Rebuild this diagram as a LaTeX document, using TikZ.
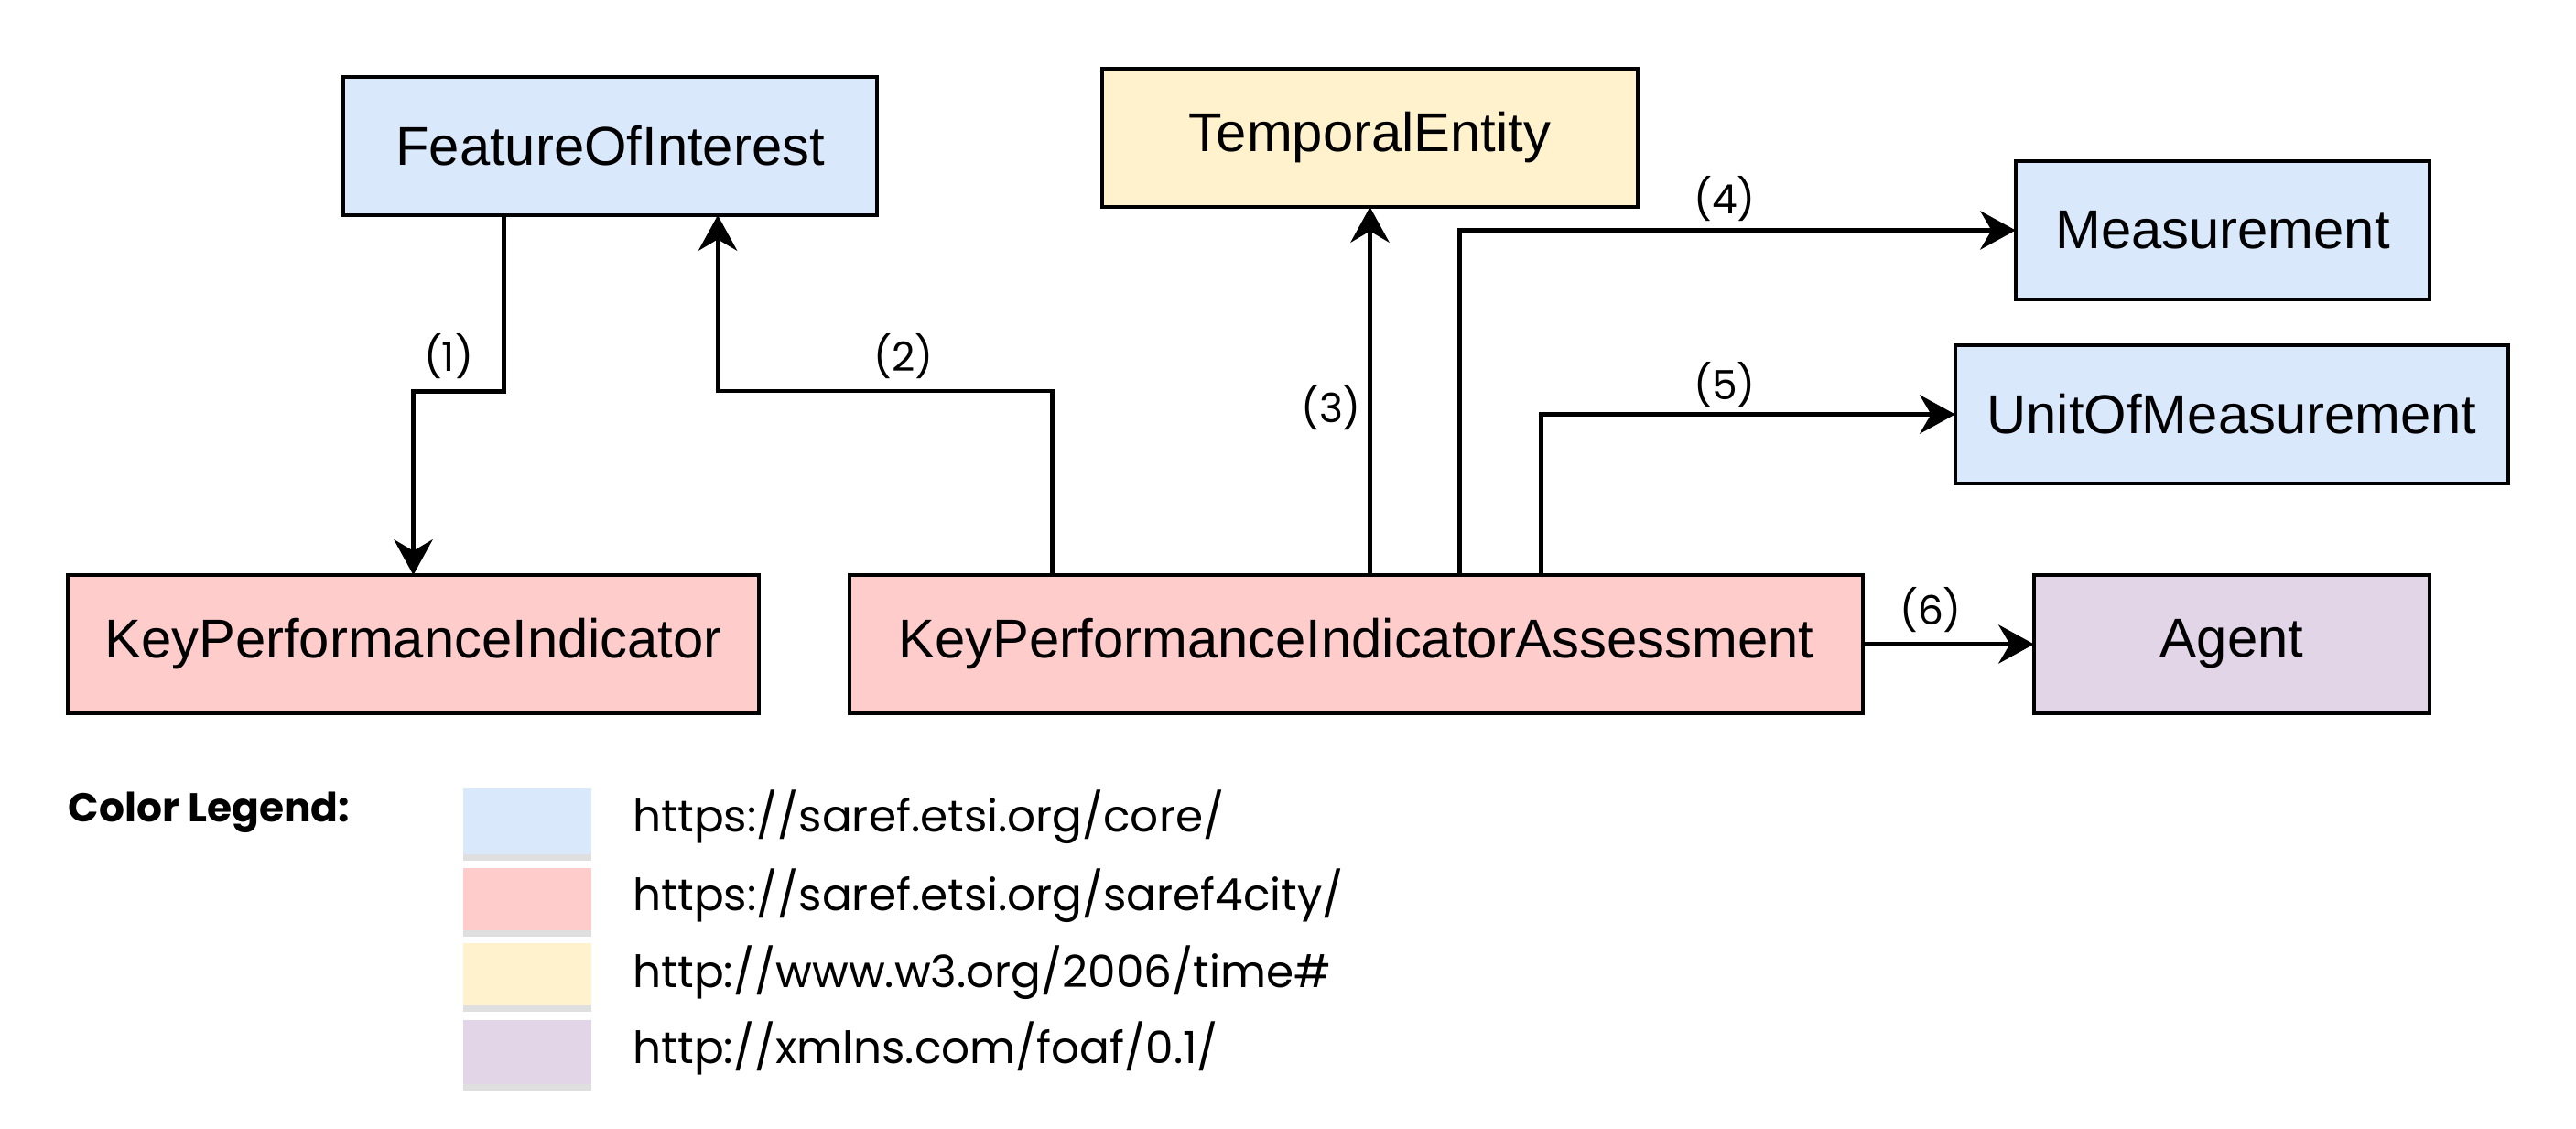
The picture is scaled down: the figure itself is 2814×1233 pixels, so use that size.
\documentclass[tikz,border=0pt]{standalone}
\usepackage{fontspec}
\setmainfont{Liberation Sans}
\newfontfamily\legendfont{Poppins}
\usepackage{tikz}
\usetikzlibrary{arrows.meta,shadows}

\definecolor{corebl}{HTML}{DAE8FC}
\definecolor{cityred}{HTML}{FFCCCC}
\definecolor{timeyl}{HTML}{FFF2CC}
\definecolor{foafpu}{HTML}{E1D5E7}

\begin{document}
\begin{tikzpicture}[x=0.01cm, y=-0.01cm,
  class/.style = {draw, line width=1.1pt, minimum height=1.51cm,
    inner sep=0pt, outer sep=0pt, font=\fontsize{17}{20}\selectfont},
  link/.style = {line width=1.4pt, -{Stealth[length=11pt,width=12pt,inset=3.5pt]}},
  lbl/.style = {font=\legendfont\fontsize{12.5}{14}\selectfont, inner sep=0pt},
  swatch/.style = {minimum width=1.4cm, inner sep=0pt,
    drop shadow={shadow xshift=0pt, shadow yshift=-2pt, opacity=0.25}},
  legtext/.style = {anchor=west, inner sep=0pt, font=\legendfont\fontsize{13.8}{16}\selectfont}]
  \useasboundingbox[fill=white] (0,0) rectangle (2814,1233);

  % classes
  \node[class, fill=corebl, minimum width=5.83cm] (foi) at (666.5,159.5) {FeatureOfInterest};
  \node[class, fill=timeyl, minimum width=5.85cm] (te) at (1496.5,150.5) {TemporalEntity};
  \node[class, fill=corebl, minimum width=4.52cm] (meas) at (2428,251.5) {Measurement};
  \node[class, fill=corebl, minimum width=6.04cm] (uom) at (2438,452.5) {UnitOfMeasurement};
  \node[class, fill=cityred, minimum width=7.55cm] (kpi) at (451.5,703.5) {KeyPerformanceIndicator};
  \node[class, fill=cityred, minimum width=11.07cm] (kpia) at (1481.5,703.5) {KeyPerformanceIndicatorAssessment};
  \node[class, fill=foafpu, minimum width=4.32cm] (agent) at (2438,703.5) {Agent};

  % relations
  \draw[link] ([xshift=-1.155cm]foi.south) -- ++(0,192) -| (kpi.north);
  \draw[link] ([xshift=-3.315cm]kpia.north) -- ++(0,-201) -| ([xshift=1.175cm]foi.south);
  \draw[link] (kpia.north -| te.south) -- (te.south);
  \draw[link] ([xshift=1.125cm]kpia.north) |- (meas.west);
  \draw[link] ([xshift=2.015cm]kpia.north) |- (uom.west);
  \draw[link] (kpia.east) -- (agent.west);

  \node[lbl] (l1) at (490,389) {(1)};
  \node[lbl] (l2) at (987,389) {(2)};
  \node[lbl] (l3) at (1454,445) {(3)};
  \node[lbl] (l4) at (1884,217) {(4)};
  \node[lbl] (l5) at (1884,420) {(5)};
  \node[lbl] (l6) at (2109,666) {(6)};

  % legend
  \node[anchor=west, inner sep=0pt, font=\legendfont\bfseries\fontsize{12.5}{14}\selectfont] (legend) at (74,887) {Color Legend:};
  \node[swatch, fill=corebl, minimum height=0.72cm] (sw1) at (576,897) {};
  \node[swatch, fill=cityred, minimum height=0.68cm] (sw2) at (576,982) {};
  \node[swatch, fill=timeyl, minimum height=0.68cm] (sw3) at (576,1064) {};
  \node[swatch, fill=foafpu, minimum height=0.70cm] (sw4) at (576,1149) {};
  \node[legtext] (t1) at (691,892) {https://saref.etsi.org/core/};
  \node[legtext] (t2) at (691,978) {https://saref.etsi.org/saref4city/};
  \node[legtext] (t3) at (691,1062) {http://www.w3.org/2006/time\#};
  \node[legtext] (t4) at (691,1145) {http://xmlns.com/foaf/0.1/};
\end{tikzpicture}
\end{document}
